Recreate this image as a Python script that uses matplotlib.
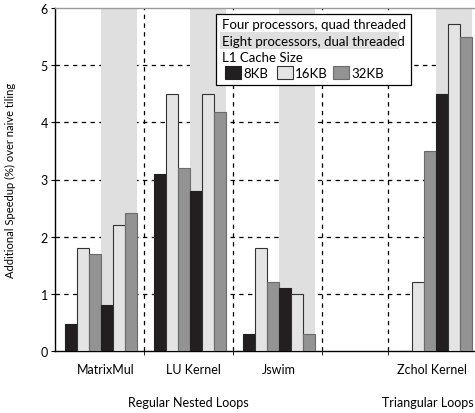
import matplotlib as mpl

mpl.use("Agg")

import matplotlib.pyplot as plt
import matplotlib.transforms as mtransforms
from matplotlib.patches import Rectangle

plt.rcParams["font.family"] = ["Lato", "DejaVu Sans"]
plt.rcParams["font.size"] = 9

# ================================
# data
# ================================
groups = ["MatrixMul", "LU Kernel", "Jswim", "Zchol Kernel"]
categories = ["Regular Nested Loops", "Triangular Loops"]
cache_sizes = ["8KB", "16KB", "32KB"]

# four processors, quad threaded
four_8kb = [0.48, 3.1, 0.3, 0.0]
four_16kb = [1.8, 4.5, 1.8, 1.2]
four_32kb = [1.7, 3.2, 1.2, 3.5]
# eight processors, dual threaded
eight_8kb = [0.8, 2.8, 1.1, 4.5]
eight_16kb = [2.2, 4.5, 1.0, 5.72]
eight_32kb = [2.42, 4.18, 0.3, 5.5]

# layout (data units, one group = 1)
group_start = [0.0, 1.0, 2.0, 3.764]
group_edges = [1.0, 2.0, 3.0, 3.74]
label_x = [0.573, 1.55, 2.517, 4.236]
bar_offset = 0.112
bar_w = 0.135

c_8 = "#231f20"
c_16 = "#e4e4e5"
c_32 = "#939393"
e_8 = "#231f20"
e_16 = "#333333"
e_32 = "#6b6b6b"
band_col = "#dfdfe0"

W, H = 475, 414


def fx(px):
    return px / W


def fy(py):
    return 1 - py / H


fig = plt.figure(figsize=(W / 100, H / 100), dpi=100)
ax = fig.add_axes([fx(55), fy(352), fx(475) - fx(55), fy(9) - fy(352)])
ax.set_xlim(0, (475 - 55) / 89)
ax.set_ylim(0, 6)

# grid
for yv in range(1, 6):
    ax.axhline(yv, color="black", lw=0.9, ls=(0, (3.5, 3.5)), zorder=1)
for xv in group_edges:
    ax.axvline(xv, color="black", lw=0.9, ls=(0, (3.5, 3.5)), zorder=1)

# shaded bands for eight processors
for g0 in group_start:
    ax.axvspan(g0 + bar_offset + 3 * bar_w, g0 + bar_offset + 6 * bar_w,
               color=band_col, lw=0, zorder=2)

series = [
    (four_8kb, c_8, e_8),
    (four_16kb, c_16, e_16),
    (four_32kb, c_32, e_32),
    (eight_8kb, c_8, e_8),
    (eight_16kb, c_16, e_16),
    (eight_32kb, c_32, e_32),
]
for k, (vals, fc, ec) in enumerate(series):
    xs = [g0 + bar_offset + k * bar_w for g0 in group_start]
    ax.bar(xs, vals, width=bar_w, align="edge", color=fc, edgecolor=ec,
           linewidth=0.8, zorder=3)

# spines / ticks
ax.spines["right"].set_visible(False)
ax.spines["top"].set_color("#9a9a9a")
ax.spines["top"].set_linewidth(1.0)
ax.spines["left"].set_linewidth(1.0)
ax.spines["bottom"].set_linewidth(1.0)
ax.set_yticks(range(0, 7))
ax.tick_params(axis="y", length=3, width=0.8, pad=2, labelsize=9)
ax.set_xticks(group_edges)
ax.set_xticklabels([])
ax.tick_params(axis="x", length=3, width=0.6, direction="out")

trans = mtransforms.blended_transform_factory(ax.transData, ax.transAxes)
for x, name in zip(label_x, groups):
    ax.text(x, -18 / 343, name, transform=trans, ha="center", va="center",
            fontsize=9)

# category labels
fig.text(fx(188), fy(403), categories[0], ha="center", va="center", fontsize=9)
fig.text(fx(474), fy(403), categories[1], ha="right", va="center", fontsize=9)

fig.text(fx(10), fy(180), "Additional Speedup (%) over naive tiling",
         rotation=90, ha="center", va="center", fontsize=8)

# legend (drawn by hand)
fig.patches.append(Rectangle((fx(216), fy(86)), fx(411) - fx(216), fy(15) - fy(86),
                             transform=fig.transFigure, facecolor="white",
                             edgecolor="black", lw=0.9, zorder=5))
fig.patches.append(Rectangle((fx(220), fy(50)), fx(399) - fx(220), fy(33) - fy(50),
                             transform=fig.transFigure, facecolor=band_col,
                             edgecolor="none", zorder=6))
fig.text(fx(222), fy(25), "Four processors, quad threaded", ha="left",
         va="center", fontsize=9.5, zorder=7)
fig.text(fx(222), fy(41.5), "Eight processors, dual threaded", ha="left",
         va="center", fontsize=9.5, zorder=7)
fig.text(fx(222), fy(58), "L1 Cache Size", ha="left", va="center",
         fontsize=9.5, zorder=7)
patch_x = [225, 277, 333]
for px0, lab, fc, ec in zip(patch_x, cache_sizes, [c_8, c_16, c_32], [e_8, e_16, e_32]):
    fig.patches.append(Rectangle((fx(px0), fy(80)), fx(16), fy(67) - fy(80),
                                 transform=fig.transFigure, facecolor=fc,
                                 edgecolor=ec, lw=0.8, zorder=7))
    fig.text(fx(px0 + 18), fy(73.5), lab, ha="left", va="center",
             fontsize=9.5, zorder=7)

fig.savefig("out.png", dpi=100)
